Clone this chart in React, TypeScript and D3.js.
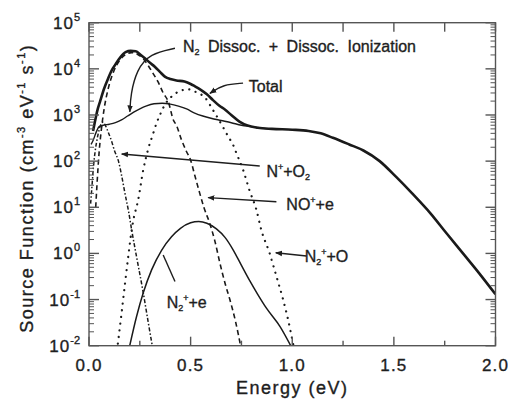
import React, { useEffect, useRef } from 'react'
import * as d3 from 'd3'

const W = 508
const H = 399
const margin = { left: 89, right: 12.5, top: 22.7, bottom: 53.3 }

// Total (thick solid)
const totalE = [0.02, 0.03, 0.04, 0.055, 0.075, 0.095, 0.11, 0.13, 0.155, 0.18, 0.205, 0.23, 0.255, 0.275, 0.3, 0.325, 0.35, 0.375, 0.4, 0.43, 0.47, 0.5, 0.52, 0.55, 0.58, 0.61, 0.64, 0.67, 0.7, 0.74, 0.78, 0.83, 0.9, 1.0, 1.08, 1.14, 1.2, 1.28, 1.35, 1.43, 1.51, 1.59, 1.68, 1.76, 1.84, 1.92, 2.0]
const totalV = [450, 750, 1200, 2000, 3800, 6300, 9000, 12500, 18000, 23000, 24500, 24000, 20000, 17000, 13500, 11000, 8500, 6700, 6000, 5600, 5300, 4700, 4200, 3500, 2800, 2100, 1600, 1300, 1000, 720, 590, 530, 500, 480, 450, 400, 320, 230, 170, 100, 46, 20, 7.4, 2.7, 1.0, 0.37, 0.13]

// N2 Dissoc. + Dissoc. Ionization (thin solid)
const dissE = [0.01, 0.02, 0.035, 0.05, 0.07, 0.1, 0.13, 0.16, 0.19, 0.22, 0.25, 0.28, 0.32, 0.36, 0.4, 0.44, 0.48, 0.52, 0.56, 0.6, 0.65, 0.7, 0.75, 0.8, 0.85, 0.9]
const dissV = [230, 280, 420, 560, 600, 630, 680, 780, 950, 1150, 1350, 1550, 1750, 1800, 1720, 1550, 1350, 1100, 950, 850, 760, 680, 600, 560, 520, 500]

// N+ + O2 (dash-dot)
const nO2E = [0.008, 0.015, 0.02, 0.03, 0.04, 0.05, 0.06, 0.07, 0.08, 0.095, 0.11, 0.125, 0.145, 0.16, 0.177, 0.195, 0.21, 0.235, 0.267, 0.29, 0.315]
const nO2V = [12, 30, 60, 160, 300, 480, 640, 700, 600, 420, 280, 170, 100, 50, 20, 8, 3.2, 0.8, 0.14, 0.035, 0.008]

// NO+ + e (dashed)
const noE = [0.033, 0.04, 0.05, 0.06, 0.075, 0.095, 0.12, 0.15, 0.18, 0.21, 0.24, 0.27, 0.29, 0.315, 0.34, 0.365, 0.39, 0.415, 0.43, 0.455, 0.48, 0.5, 0.52, 0.545, 0.565, 0.594, 0.62, 0.644, 0.67, 0.693, 0.72, 0.75]
const noV = [10, 35, 160, 450, 1400, 3800, 8500, 15000, 20500, 22500, 20500, 16000, 12000, 8000, 5200, 3000, 1950, 780, 600, 290, 160, 105, 50, 20, 10, 4.5, 1.8, 0.62, 0.22, 0.1, 0.035, 0.008]

// N2+ + O (dotted)
const n2oE = [0.138, 0.16, 0.177, 0.193, 0.21, 0.218, 0.242, 0.267, 0.29, 0.316, 0.332, 0.349, 0.373, 0.406, 0.447, 0.488, 0.529, 0.57, 0.611, 0.66, 0.685, 0.709, 0.725, 0.758, 0.79, 0.824, 0.848, 0.889, 0.922, 0.955, 0.98, 1.006]
const n2oV = [0.008, 0.05, 0.22, 0.85, 3.2, 5.2, 14.5, 65, 175, 400, 660, 1000, 1660, 2500, 3300, 3600, 3100, 2400, 1260, 540, 340, 225, 150, 65, 23, 8.7, 3.2, 1.0, 0.32, 0.1, 0.036, 0.01]

// N2+ + e (solid)
const n2eE = [0.198, 0.234, 0.267, 0.308, 0.357, 0.406, 0.45, 0.5, 0.54, 0.58, 0.627, 0.67, 0.709, 0.75, 0.79, 0.83, 0.873, 0.94, 0.998]
const n2eV = [0.009, 0.043, 0.14, 0.44, 1.17, 2.3, 3.5, 4.6, 4.9, 4.5, 3.4, 2.2, 1.2, 0.55, 0.26, 0.13, 0.065, 0.026, 0.009]

const xTicks = [0, 0.5, 1.0, 1.5, 2.0]
const xMinor = [0.25, 0.75, 1.25, 1.75]
const yExps = [-2, -1, 0, 1, 2, 3, 4, 5]

const FONT = '"Liberation Sans", Arial, Helvetica, sans-serif'
const INK = '#1e1e1e'

function zip(e: number[], v: number[]) {
  return e.map((d, i) => [d, v[i]] as [number, number])
}

export default function App() {
  const ref = useRef<SVGSVGElement>(null)

  useEffect(() => {
    const svg = d3.select(ref.current)
    svg.selectAll('*').remove()

    const x = d3.scaleLinear().domain([0, 2]).range([margin.left, W - margin.right])
    const y = d3.scaleLog().domain([1e-2, 1e5]).range([H - margin.bottom, margin.top])
    const x0 = margin.left, x1 = W - margin.right
    const y0 = H - margin.bottom, y1 = margin.top

    const defs = svg.append('defs')
    defs.append('clipPath').attr('id', 'plotclip')
      .append('rect').attr('x', x0).attr('y', y1).attr('width', x1 - x0).attr('height', y0 - y1)
    defs.append('marker').attr('id', 'arr')
      .attr('viewBox', '0 0 10 10').attr('refX', 9).attr('refY', 5)
      .attr('markerWidth', 7).attr('markerHeight', 7).attr('markerUnits', 'userSpaceOnUse')
      .attr('orient', 'auto')
      .append('path').attr('d', 'M0,1 L10,5 L0,9 Z').attr('fill', INK)

    const line = d3.line<[number, number]>()
      .x(d => x(d[0])).y(d => y(d[1]))
      .curve(d3.curveMonotoneX)

    const g = svg.append('g').attr('clip-path', 'url(#plotclip)')
    const series = [
      { data: zip(n2oE, n2oV), w: 2.2, dash: '0.1,6.6', cap: 'round' },
      { data: zip(nO2E, nO2V), w: 1.5, dash: '4,2,1.5,2', cap: 'butt' },
      { data: zip(noE, noV), w: 1.6, dash: '5,3.5', cap: 'butt' },
      { data: zip(n2eE, n2eV), w: 1.5, dash: null, cap: 'butt' },
      { data: zip(dissE, dissV), w: 1.4, dash: null, cap: 'butt' },
      { data: zip(totalE, totalV), w: 2.6, dash: null, cap: 'butt' },
    ]
    series.forEach(s => {
      g.append('path')
        .attr('d', line(s.data))
        .attr('fill', 'none')
        .attr('stroke', '#1a1a1a')
        .attr('stroke-width', s.w)
        .attr('stroke-linecap', s.cap)
        .attr('stroke-dasharray', s.dash)
    })

    // frame
    const ax = svg.append('g').attr('stroke', '#555').attr('stroke-width', 1.4)
    ax.append('rect').attr('x', x0).attr('y', y1).attr('width', x1 - x0).attr('height', y0 - y1).attr('fill', 'none')

    xTicks.forEach(t => {
      ax.append('line').attr('x1', x(t)).attr('x2', x(t)).attr('y1', y0).attr('y2', y0 - 9)
      ax.append('line').attr('x1', x(t)).attr('x2', x(t)).attr('y1', y1).attr('y2', y1 + 9)
    })
    xMinor.forEach(t => {
      ax.append('line').attr('x1', x(t)).attr('x2', x(t)).attr('y1', y0).attr('y2', y0 - 5)
      ax.append('line').attr('x1', x(t)).attr('x2', x(t)).attr('y1', y1).attr('y2', y1 + 9)
    })
    yExps.forEach(e => {
      const v = Math.pow(10, e)
      ax.append('line').attr('x1', x0).attr('x2', x0 + 10).attr('y1', y(v)).attr('y2', y(v))
      ax.append('line').attr('x1', x1).attr('x2', x1 - 10).attr('y1', y(v)).attr('y2', y(v))
      if (e < 5) {
        for (let k = 2; k < 10; k++) {
          const m = k * v
          ax.append('line').attr('x1', x0).attr('x2', x0 + 5).attr('y1', y(m)).attr('y2', y(m)).attr('stroke-width', 1)
          ax.append('line').attr('x1', x1).attr('x2', x1 - 5).attr('y1', y(m)).attr('y2', y(m)).attr('stroke-width', 1)
        }
      }
    })

    // tick labels
    const lab = svg.append('g').attr('font-family', FONT).attr('fill', INK)
      .attr('stroke', INK).attr('stroke-width', 0.35)
    xTicks.forEach(t => {
      lab.append('text').attr('x', x(t)).attr('y', y0 + 25)
        .attr('text-anchor', 'middle').attr('font-size', 17).attr('letter-spacing', 1.2)
        .text(t.toFixed(1))
    })
    yExps.forEach(e => {
      const tx = lab.append('text').attr('x', 80).attr('y', y(Math.pow(10, e)) + 6)
        .attr('text-anchor', 'end').attr('font-size', 17)
      tx.append('tspan').attr('letter-spacing', 1).text('10')
      tx.append('tspan').attr('font-size', 11).attr('dy', -8).text(String(e))
    })

    // axis titles
    lab.append('text').attr('x', (x0 + x1) / 2).attr('y', 394)
      .attr('text-anchor', 'middle').attr('font-size', 18).attr('letter-spacing', 1.5)
      .text('Energy (eV)')
    const yt = lab.append('text')
      .attr('transform', `translate(33,${(y0 + y1) / 2 + 4}) rotate(-90)`)
      .attr('text-anchor', 'middle').attr('font-size', 18).attr('letter-spacing', 1.5)
    yt.append('tspan').text('Source Function (cm')
    yt.append('tspan').attr('font-size', 11).attr('dy', -8).text('-3')
    yt.append('tspan').attr('dy', 8).text(' eV')
    yt.append('tspan').attr('font-size', 11).attr('dy', -8).text('-1')
    yt.append('tspan').attr('dy', 8).text(' s')
    yt.append('tspan').attr('font-size', 11).attr('dy', -8).text('-1')
    yt.append('tspan').attr('dy', 8).text(')')

    // annotations
    const ann = svg.append('g').attr('font-family', FONT).attr('fill', INK).attr('font-size', 16)
    const arrow = (pts: [number, number][], head = true) => {
      ann.append('path')
        .attr('d', d3.line<[number, number]>().x(d => x(d[0])).y(d => y(d[1])).curve(d3.curveBasis)(pts))
        .attr('fill', 'none').attr('stroke', INK).attr('stroke-width', 1.4)
        .attr('marker-end', head ? 'url(#arr)' : null)
    }
    const txt = () => ann.append('text').attr('stroke', INK).attr('stroke-width', 0.35)
    const p10 = (l: number) => Math.pow(10, l)

    arrow([[0.423, p10(4.445)], [0.3, p10(4.33)], [0.235, p10(3.98)], [0.205, p10(3.45)], [0.201, p10(3.07)]])
    const t1 = txt().attr('x', x(0.462)).attr('y', y(p10(4.365))).attr('word-spacing', 4)
    t1.append('tspan').text('N')
    t1.append('tspan').attr('font-size', 9).attr('dy', 3).text('2')
    t1.append('tspan').attr('dy', -3).text(' Dissoc. + Dissoc. Ionization')

    arrow([[0.758, p10(3.69)], [0.66, p10(3.66)], [0.595, p10(3.47)]])
    txt().attr('x', x(0.786)).attr('y', y(p10(3.5))).text('Total')

    arrow([[0.84, p10(1.895)], [0.161, p10(2.155)]])
    const t3 = txt().attr('x', x(0.873)).attr('y', y(p10(1.65)))
    t3.append('tspan').text('N')
    t3.append('tspan').attr('font-size', 9).attr('dy', -7).text('+')
    t3.append('tspan').attr('dy', 7).text('+O')
    t3.append('tspan').attr('font-size', 9).attr('dy', 3).text('2')

    arrow([[0.922, p10(1.12)], [0.586, p10(1.21)]])
    const t4 = txt().attr('x', x(0.971)).attr('y', y(p10(0.94)))
    t4.append('tspan').text('NO')
    t4.append('tspan').attr('font-size', 9).attr('dy', -7).text('+')
    t4.append('tspan').attr('dy', 7).text('+e')

    arrow([[1.07, p10(-0.056)], [0.919, p10(0.015)]])
    const t5 = txt().attr('x', x(1.061)).attr('y', y(p10(-0.186)))
    t5.append('tspan').text('N')
    t5.append('tspan').attr('font-size', 9).attr('dy', 3).text('2')
    t5.append('tspan').attr('font-size', 9).attr('dy', -10).text('+')
    t5.append('tspan').attr('dy', 7).text('+O')

    arrow([[0.423, p10(-0.61)], [0.365, p10(-0.035)]], false)
    const t6 = txt().attr('x', x(0.382)).attr('y', y(p10(-1.18)))
    t6.append('tspan').text('N')
    t6.append('tspan').attr('font-size', 9).attr('dy', 3).text('2')
    t6.append('tspan').attr('font-size', 9).attr('dy', -10).text('+')
    t6.append('tspan').attr('dy', 7).text('+e')
  }, [])

  return (
    <svg ref={ref} width={W} height={H}
      style={{ position: 'absolute', left: 0, top: 0, background: '#fff' }} />
  )
}
